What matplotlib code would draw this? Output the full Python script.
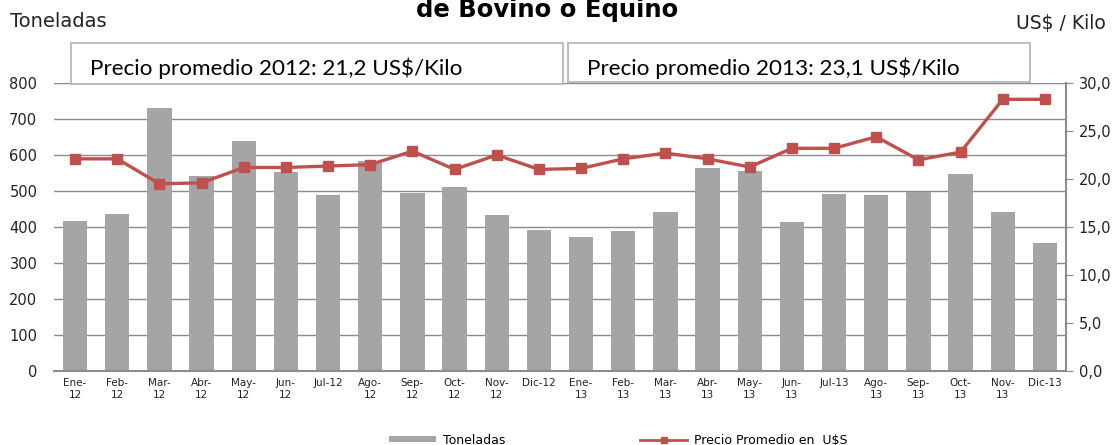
import matplotlib
matplotlib.use("Agg")
import matplotlib.pyplot as plt
from matplotlib.patches import Rectangle, Patch
from matplotlib.lines import Line2D

months = ["Ene-\n12", "Feb-\n12", "Mar-\n12", "Abr-\n12", "May-\n12", "Jun-\n12", "Jul-12",
          "Ago-\n12", "Sep-\n12", "Oct-\n12", "Nov-\n12", "Dic-12",
          "Ene-\n13", "Feb-\n13", "Mar-\n13", "Abr-\n13", "May-\n13", "Jun-\n13", "Jul-13",
          "Ago-\n13", "Sep-\n13", "Oct-\n13", "Nov-\n13", "Dic-13"]
toneladas = [418, 437, 730, 542, 639, 554, 489, 584, 494, 511, 434, 392,
             372, 390, 441, 563, 556, 415, 492, 489, 497, 547, 443, 355]
precio = [22.1, 22.1, 19.5, 19.6, 21.2, 21.2, 21.35, 21.5, 22.9, 21.0, 22.5, 21.0,
          21.1, 22.1, 22.7, 22.1, 21.25, 23.2, 23.2, 24.4, 22.0, 22.8, 28.3, 28.3]
left_ticks = [0, 100, 200, 300, 400, 500, 600, 700, 800]
right_ticks = [0, 5, 10, 15, 20, 25, 30]
right_labels = ["0,0", "5,0", "10,0", "15,0", "20,0", "25,0", "30,0"]

W, H = 1118, 445
fig = plt.figure(figsize=(W / 100, H / 100), dpi=100)
ax = fig.add_axes([54 / W, 1 - 371 / H, (1066 - 54) / W, (371 - 83) / H])

x = list(range(len(months)))
ax.bar(x, toneladas, width=0.58, color="#a5a5a5", zorder=2)
ax.set_xlim(-0.5, len(months) - 0.5)
ax.set_ylim(0, 800)
ax.set_yticks(left_ticks)
ax.set_yticklabels([str(t) for t in left_ticks], fontsize=10.5, color="#222222")
ax.yaxis.grid(True, color="#8c8c8c", linewidth=1.0, zorder=0)
ax.set_axisbelow(True)
ax.set_xticks(x)
ax.set_xticklabels(months, fontsize=7.5, color="#222222", linespacing=1.2)
ax.tick_params(axis="x", length=0, pad=5)
ax.tick_params(axis="y", length=0, pad=12)
for s in ["top", "left", "right"]:
    ax.spines[s].set_visible(False)
ax.spines["bottom"].set_color("#8c8c8c")
ax.spines["bottom"].set_linewidth(1.5)

ax2 = ax.twinx()
ax2.plot(x, precio, color="#c0504d", linewidth=2.4, marker="s", markersize=6.5, zorder=5)
ax2.set_ylim(0, 30)
ax2.set_yticks(right_ticks)
ax2.set_yticklabels(right_labels, fontsize=10.5, color="#222222")
ax2.tick_params(axis="y", length=5, color="#8c8c8c", direction="out", pad=4)
for s in ["top", "left", "bottom"]:
    ax2.spines[s].set_visible(False)
ax2.spines["right"].set_color("#8c8c8c")
ax2.spines["right"].set_linewidth(1.5)

# Titles and axis labels
fig.text(547 / W, 1 - 17 / H, "de Bovino o Equino", fontsize=17.5, fontweight="bold",
         ha="center", va="baseline", color="black")
fig.text(10 / W, 1 - 27 / H, "Toneladas", fontsize=14, ha="left", va="baseline", color="#222222")
fig.text(1106 / W, 1 - 29 / H, "US$ / Kilo", fontsize=13.5, ha="right", va="baseline", color="#222222")

# Annotation boxes
for (x0, x1, y0, y1, txt) in [(71, 563, 43, 84, "Precio promedio 2012: 21,2 US$/Kilo"),
                               (568, 1030, 43, 82, "Precio promedio 2013: 23,1 US$/Kilo")]:
    fig.patches.append(Rectangle((x0 / W, 1 - y1 / H), (x1 - x0) / W, (y1 - y0) / H,
                                 transform=fig.transFigure, facecolor="white",
                                 edgecolor="#b8b8b8", linewidth=1.3, zorder=10))
    fig.text((x0 + 19) / W, 1 - 75 / H, txt, fontsize=16.2, family="Lato",
             ha="left", va="baseline", color="black", zorder=11)

handles = [Patch(facecolor="#a5a5a5", edgecolor="none"),
           Line2D([0], [0], color="#c0504d", linewidth=2, marker="s", markersize=5)]
leg = fig.legend(handles, ["Toneladas", "Precio Promedio en  U$S"], loc="center",
                 bbox_to_anchor=(618 / W, 1 - 440 / H), ncol=2, frameon=False, fontsize=9,
                 handlelength=3.8, handleheight=0.45, columnspacing=10.8, handletextpad=0.5)

fig.savefig("out.png", dpi=100)
